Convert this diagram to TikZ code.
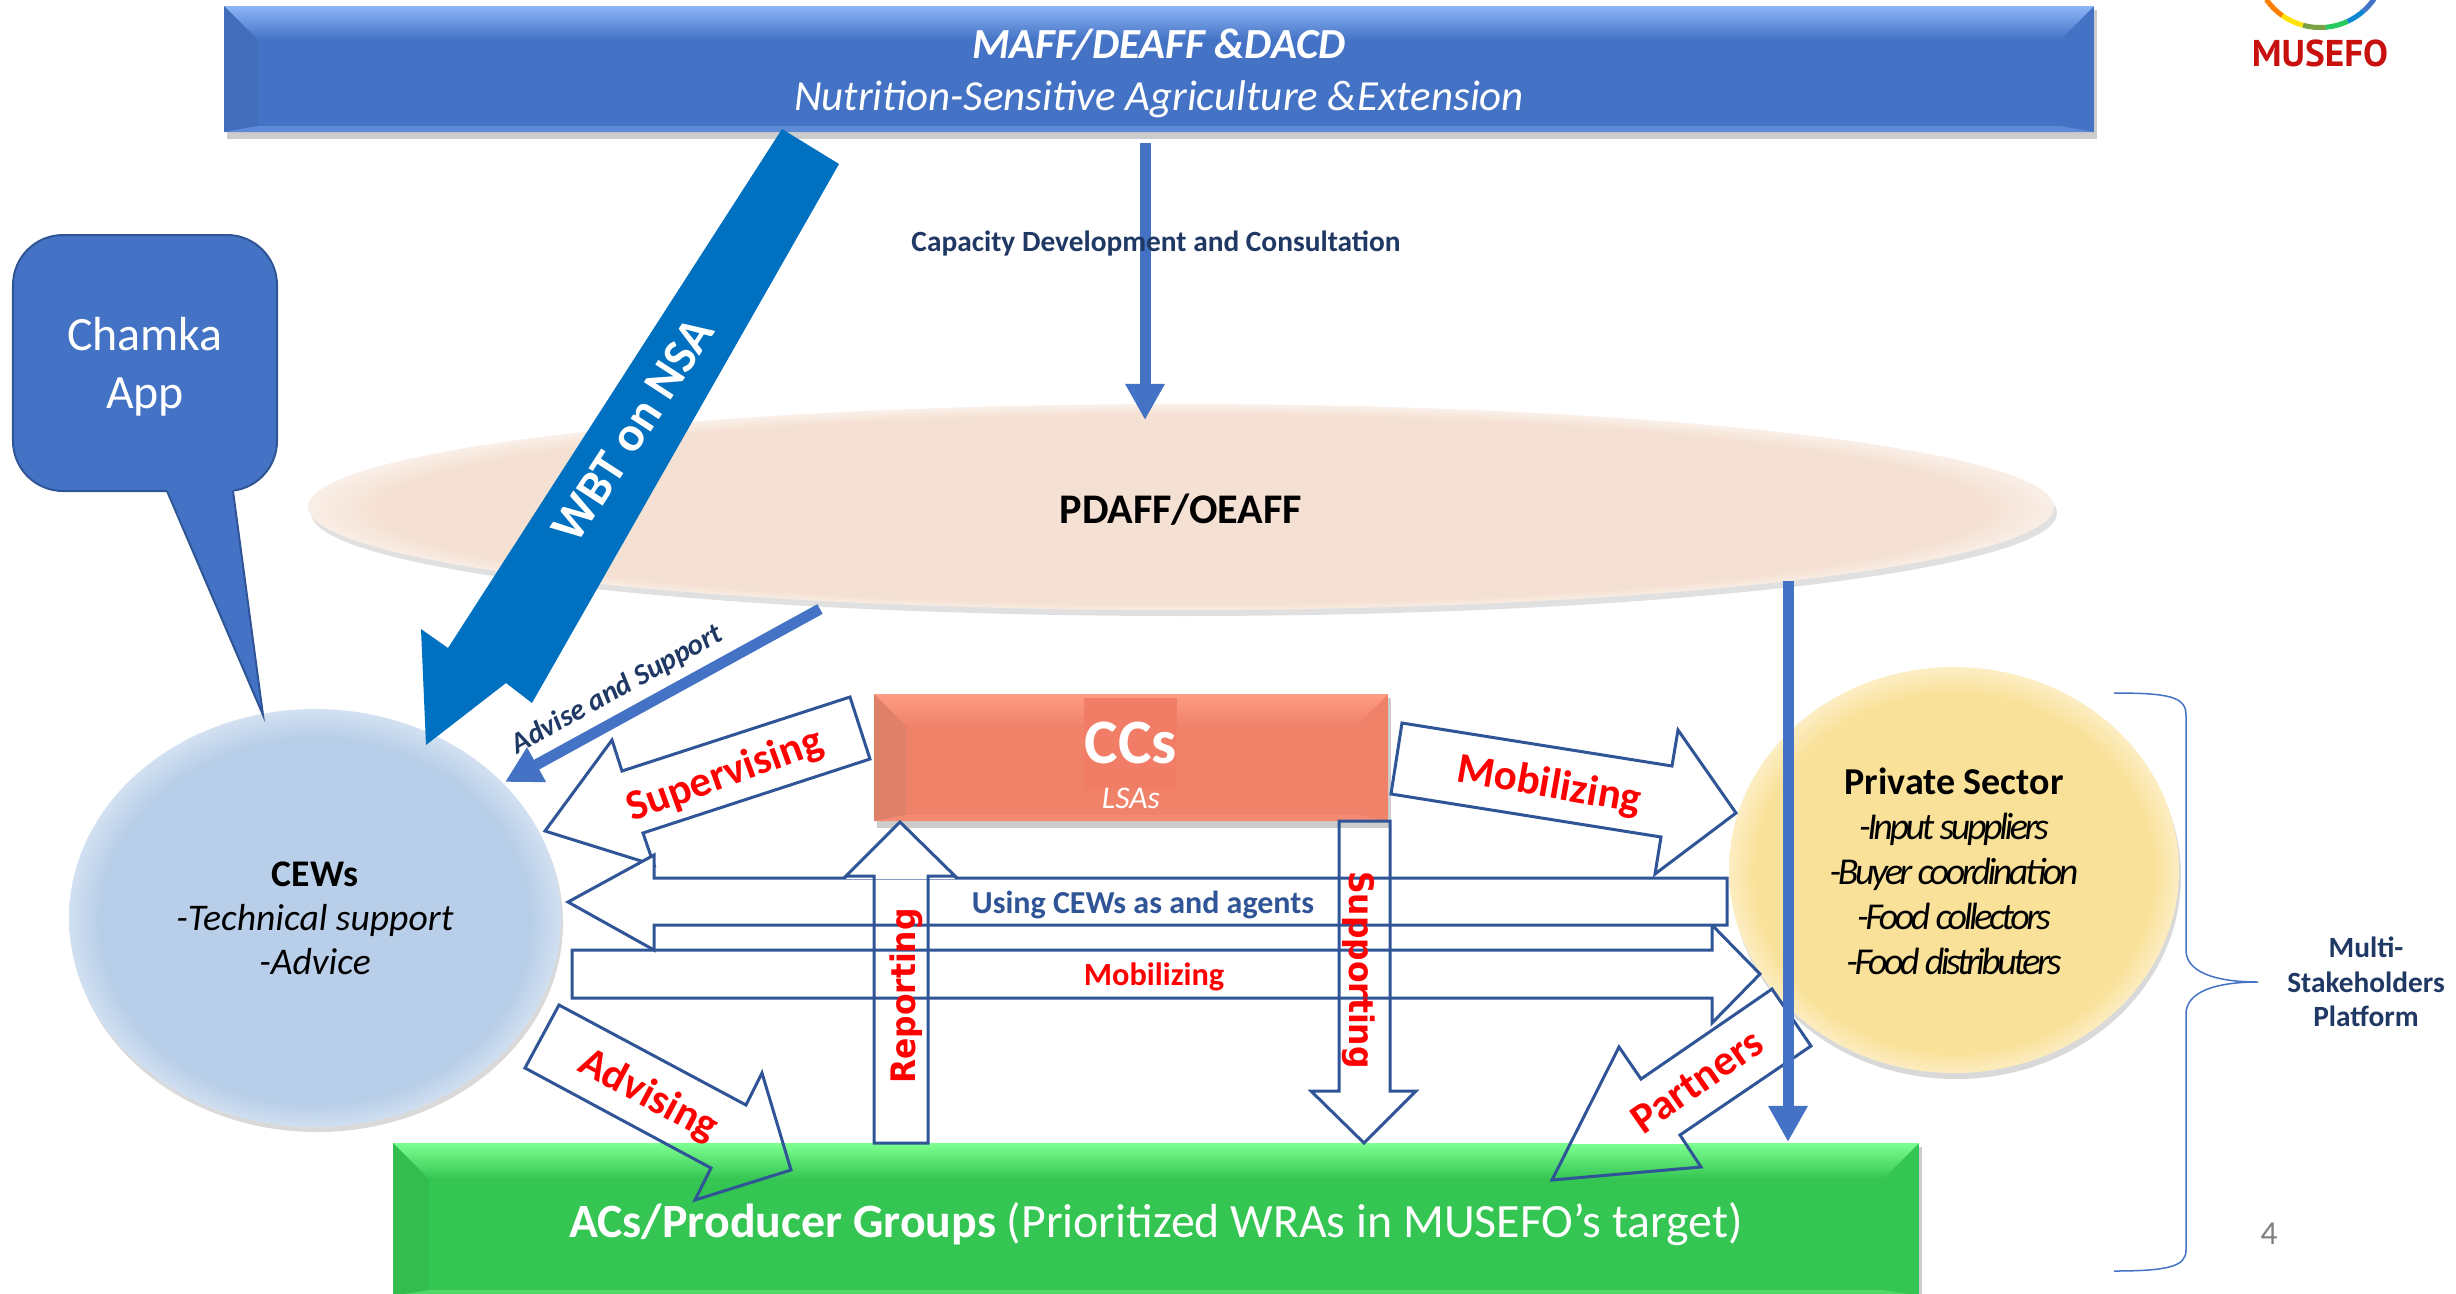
\documentclass[tikz,border=0pt]{standalone}
\usepackage{fontspec}
\setmainfont{Carlito}
\newfontfamily\widefont{DejaVu Sans}
\newfontfamily\logofont{PT Sans}
\usetikzlibrary{arrows.meta}
\definecolor{steel}{HTML}{4472C4}
\definecolor{steellight}{HTML}{8DB6F7}
\definecolor{steeldark}{HTML}{416DBA}
\definecolor{outline}{HTML}{2F5597}
\definecolor{navy}{HTML}{1F3864}
\definecolor{wbtblue}{HTML}{0070C0}
\definecolor{salmon}{HTML}{F0826A}
\definecolor{salmonlight}{HTML}{FF9C84}
\definecolor{salmondark}{HTML}{DF8069}
\definecolor{lawn}{HTML}{35C552}
\definecolor{lawnlight}{HTML}{7DFF92}
\definecolor{lawndark}{HTML}{33BD4F}
\definecolor{peach}{HTML}{F5E1D3}
\definecolor{sky}{HTML}{B9CFE9}
\definecolor{straw}{HTML}{FAE199}
\pgfdeclareradialshading{skyshade}{\pgfpoint{0bp}{-2bp}}{color(0bp)=(sky); color(22bp)=(sky); color(25bp)=(white!35!sky); color(27bp)=(white!85!sky)}
\pgfdeclareradialshading{strawshade}{\pgfpoint{0bp}{-2bp}}{color(0bp)=(straw); color(22bp)=(straw); color(25bp)=(white!40!straw); color(27bp)=(white!85!straw)}
\pgfdeclareradialshading{peachshade}{\pgfpoint{0bp}{-3bp}}{color(0bp)=(peach); color(23bp)=(peach); color(25.5bp)=(white!55!peach); color(28bp)=(white)}
\newcommand{\fs}[2]{\fontsize{#1}{#2}\selectfont}
% x1, y1, x2, y2, base, light, dark, bevel
\newcommand{\bevelbox}[8]{
    \fill[black, opacity=0.2] (#1+3,#2+4) rectangle (#3+3,#4+7);
    \fill[#5] (#1,#2) rectangle (#3,#4);
    \shade[top color=#6, bottom color=#5] (#1,#2) -- (#3,#2) -- (#3-#8,#2+#8) -- (#1+#8,#2+#8) -- cycle;
    \fill[#7] (#1,#2) -- (#1+#8,#2+#8) -- (#1+#8,#4-6) -- (#1,#4) -- cycle;
    \fill[#6!35!#5] (#1,#4) -- (#1+#8,#4-6) -- (#3-#8,#4-6) -- (#3,#4) -- cycle;
}
\tikzset{
    blockarrow/.style={draw=outline, line width=0.03cm, line join=miter},
    whitearrow/.style={blockarrow, fill=white},
    thinarrow/.style={draw=steel, line width=0.11cm, -{Triangle[length=0.36cm, width=0.37cm]}},
    redlabel/.style={text=red, font=\fs{12.2}{14}\bfseries},
    navylabel/.style={text=navy, font=\fs{8.35}{9.8}\bfseries},
    whitelabel/.style={text=white, align=center},
    blacklabel/.style={text=black, align=center}
}
\begin{document}
\begin{tikzpicture}[x=0.01cm, y=-0.01cm]
\useasboundingbox (0,0) rectangle (2456,1293);
% Logo
    \begin{scope}
    \clip (2200,0) rectangle (2456,100);
    \foreach \from/\to/\tint in {215/235/orange, 235/255/yellow!85!orange, 255/275/yellow!50!green!70!black, 275/295/green!50!teal!85, 295/312/cyan!70!blue, 312/326/steel} {
        \draw[\tint, line width=0.05cm] ({2320+65.5*cos(\from)},{-38-65.5*sin(\from)}) arc[start angle=\from, end angle=\to, radius=0.655cm];
    }
    \end{scope}
    \node[text={rgb,255:red,200;green,16;blue,14}, font=\fs{10.6}{12}\logofont\bfseries] (logo) at (2320,53) {MUSEFO};
% Boxes
    \bevelbox{224}{6}{2094}{132}{steel}{steellight}{steeldark}{34}
    \bevelbox{393}{1143}{1919}{1296}{lawn}{lawnlight}{lawndark}{36}
    \bevelbox{874}{694}{1388}{821}{salmon}{salmonlight}{salmondark}{32}
    \fill[salmon!96!red] (1084,698) rectangle (1177,790);
% Ellipses
    \fill[black, opacity=0.12] (1184,513) ellipse[x radius=873, y radius=103];
    \shade[shading=peachshade] (1181,507) ellipse[x radius=873, y radius=103];
    \fill[black, opacity=0.15] (317,923) ellipse[x radius=246, y radius=209];
    \shade[shading=skyshade] (315,918) ellipse[x radius=246, y radius=209];
    \fill[black, opacity=0.15] (1956,876) ellipse[x radius=225, y radius=203];
    \shade[shading=strawshade] (1954,870) ellipse[x radius=225, y radius=203];
% Callout
    \draw[fill=steel, draw=outline, line width=0.02cm, rounded corners=0.5cm] (167,491) -- (13,491) -- (13,235) -- (277,235) -- (277,491) -- (233,491);
    \fill[steel] (167,489) -- (233,489) -- (263,715) -- cycle;
    \draw[outline, line width=0.02cm] (167,491) -- (263,715) -- (233,491);
% Thick arrow down to the CEWs
    \fill[wbtblue] (782,129) -- (839,164) -- (532,703) -- (506,683) -- (426,745) -- (421,629) -- (448,648) -- cycle;
% Thin arrows
    \coordinate (capfrom) at (1145,143);
    \coordinate (capto) at (1145,420);
    \coordinate (advfrom) at (820,609);
    \coordinate (advto) at (505,782);
    \coordinate (partfrom) at (1788,581);
    \coordinate (partto) at (1788,1142);
% Outlined arrows
    \draw[whitearrow] (850,697) -- (870,759) -- (643,833) -- (654,865) -- (545,831) -- (612,740) -- (622,771) -- cycle;
    \draw[whitearrow] (1402,723) -- (1672,766) -- (1678,730) -- (1736,813) -- (1655,874) -- (1661,837) -- (1391,794) -- cycle;
    \draw[whitearrow] (572,950) -- (1712,950) -- (1712,925) -- (1760,974) -- (1712,1023) -- (1712,998) -- (572,998) -- cycle;
    \draw[whitearrow] (568,902) -- (654,855) -- (654,878) -- (1727,878) -- (1727,925) -- (654,925) -- (654,950) -- cycle;
    \fill[white] (846,879) -- (900,822) -- (955,879) -- cycle;
    \draw[blockarrow] (874,1143) -- (874,876) -- (846,876) -- (900,822) -- (955,876) -- (928,876) -- (928,1143) -- cycle;
    \draw[blockarrow] (1339,821) -- (1390,821) -- (1390,1091) -- (1416,1091) -- (1364,1143) -- (1311,1091) -- (1339,1091) -- cycle;
    \draw[blockarrow] (559,1005) -- (746,1105) -- (762,1073) -- (791,1170) -- (695,1200) -- (711,1168) -- (525,1068) -- cycle;
    \begin{scope}
    \clip (1500,900) rectangle (1900,1143);
    \fill[white] (1772,989) -- (1811,1046) -- (1680,1135) -- (1701,1167) -- (1552,1180) -- (1619,1047) -- (1641,1079) -- cycle;
    \end{scope}
    \draw[blockarrow] (1772,989) -- (1811,1046) -- (1680,1135) -- (1701,1167) -- (1552,1180) -- (1619,1047) -- (1641,1079) -- cycle;
    \draw[thinarrow] (capfrom) -- (capto);
    \draw[thinarrow] (advfrom) -- (advto);
    \draw[thinarrow] (partfrom) -- (partto);
% Brace
    \draw[steel, line width=0.015cm] (2114,693) .. controls (2170,693) and (2186,697) .. (2186,715) -- (2186,950) .. controls (2186,972) and (2215,982) .. (2258,982) .. controls (2215,982) and (2186,992) .. (2186,1014) -- (2186,1250) .. controls (2186,1266) and (2170,1271) .. (2114,1271);
% Labels
    \node[whitelabel, font=\fs{12.2}{14.8}] (maff) at (1159,73) {\textbf{\itshape MAFF/DEAFF \&DACD}\\\itshape Nutrition-Sensitive Agriculture \&Extension};
    \node[whitelabel, font=\fs{13.6}{16.5}] (chamka) at (145,367) {Chamka\\App};
    \node[whitelabel, rotate=57, font=\fs{14}{16}\bfseries] (wbt) at (633,430) {WBT on NSA};
    \node[navylabel] (capacity) at (1156,243) {Capacity Development and Consultation};
    \node[blacklabel, font=\fs{12}{15}\bfseries] (pdaff) at (1181,510) {PDAFF/OEAFF};
    \node[navylabel, rotate=29, font=\fs{8.35}{10}\bfseries\itshape] (advise) at (617,690) {Advise and Support};
    \node[whitelabel, font=\fs{18}{20}\bfseries] (ccs) at (1131,743) {CCs};
    \node[whitelabel, font=\fs{9}{11}\itshape] (lsas) at (1131,798) {LSAs};
    \node[blacklabel, font=\fs{10.7}{12.5}] (cews) at (315,918) {\textbf{CEWs}\\\textit{-Technical support}\\\textit{-Advice}};
    \node[blacklabel, font=\fs{10.8}{12.8}] (private) at (1954,871) {\textbf{Private Sector}\\\itshape\addfontfeature{LetterSpace=-9}-Input suppliers\\\itshape\addfontfeature{LetterSpace=-9}-Buyer coordination\\\itshape\addfontfeature{LetterSpace=-9}-Food collectors\\\itshape\addfontfeature{LetterSpace=-9}-Food distributers};
    \node[redlabel, rotate=20] (supervising) at (725,776) {Supervising};
    \node[redlabel, rotate=-10] (mobtop) at (1549,786) {Mobilizing};
    \node[redlabel, rotate=-28] (advising) at (648,1096) {Advising};
    \node[redlabel, rotate=35] (partners) at (1697,1081) {Partners};
    \node[navylabel, text=outline, font=\fs{9.1}{11}\bfseries] (using) at (1143,905) {Using CEWs as and agents};
    \node[redlabel, font=\fs{9.2}{11}\bfseries] (mobilong) at (1154,977) {Mobilizing};
    \node[text=red, rotate=90, font=\fs{9.6}{11}\widefont\bfseries] (reporting) at (906,996) {\scalebox{0.93}[1]{Reporting}};
    \node[text=red, rotate=-90, font=\fs{9.6}{11}\widefont\bfseries] (supporting) at (1359,970) {\scalebox{0.93}[1]{Supporting}};
    \node[whitelabel, font=\fs{13.6}{15}] (acs) at (1156,1224) {\textbf{ACs/Producer Groups} (Prioritized WRAs in MUSEFO’s target)};
    \node[navylabel, align=center] (multi) at (2366,982) {Multi-\\Stakeholders\\Platform};
    \node[text=gray, font=\fs{9.5}{10}] (pagenum) at (2269,1234) {4};
\end{tikzpicture}
\end{document}
